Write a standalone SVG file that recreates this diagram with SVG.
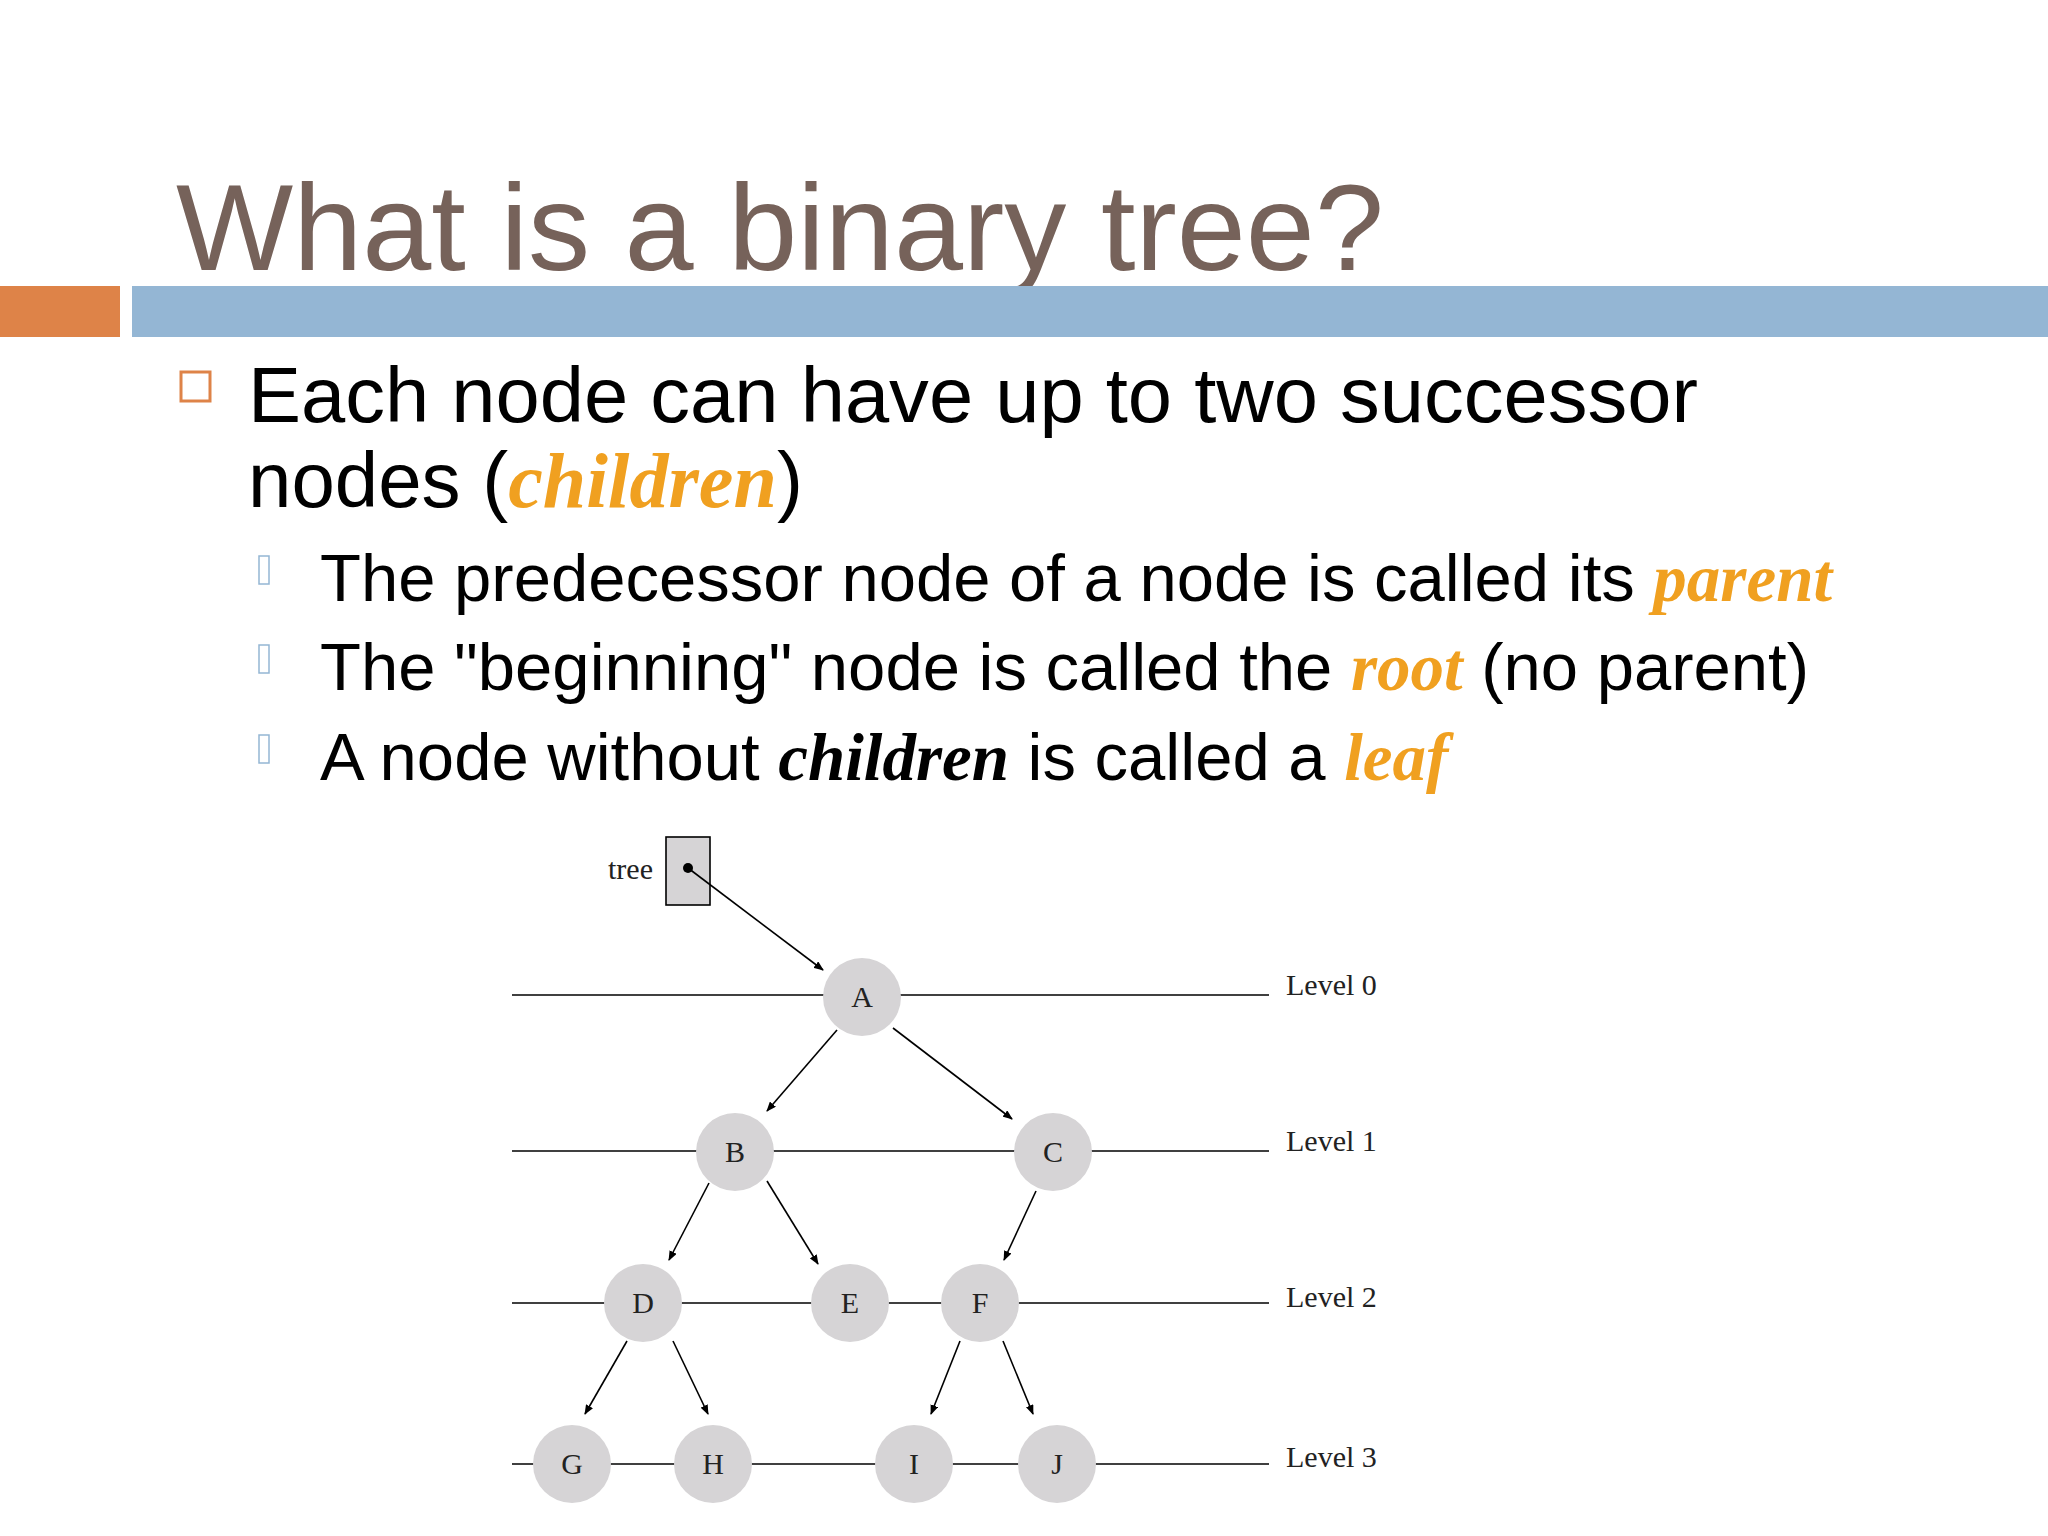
<svg xmlns="http://www.w3.org/2000/svg" width="2048" height="1536" viewBox="0 0 2048 1536">
<style>
.t{font-family:"Liberation Sans",Arial,sans-serif;fill:#000}
.o{font-family:"Liberation Serif",serif;font-style:italic;font-weight:bold;fill:#f0a020}
.s{font-family:"Liberation Serif",serif;fill:#222;font-size:30px}
.n{fill:#d6d4d6}
.lv{stroke:#000;stroke-width:1.6;fill:none}
.ar{stroke:#000;stroke-width:1.6;marker-end:url(#ah)}
</style>
<defs><marker id="ah" markerWidth="10" markerHeight="8" refX="9" refY="4" orient="auto" markerUnits="userSpaceOnUse"><path d="M0,0 L10,4 L0,8 z" fill="#000"/></marker></defs>
<rect width="2048" height="1536" fill="#fff"/>
<text x="176" y="270" font-family="Liberation Sans,Arial,sans-serif" font-size="122" fill="#76625a" textLength="1208" lengthAdjust="spacingAndGlyphs">What is a binary tree?</text>
<rect x="0" y="286" width="120" height="51" fill="#de8348"/>
<rect x="132" y="286" width="1916" height="51" fill="#94b6d4"/>
<rect x="181" y="372" width="29" height="29" fill="none" stroke="#de8348" stroke-width="3"/>
<text class="t" x="248" y="422" font-size="78" textLength="1450" lengthAdjust="spacingAndGlyphs">Each node can have up to two successor</text>
<text class="t" x="248" y="507" font-size="78">nodes (<tspan class="o">children</tspan>)</text>
<g font-size="67">
<rect x="259" y="556" width="10" height="28" fill="none" stroke="#94b6d4" stroke-width="1.5"/>
<text class="t" x="320" y="601">The predecessor node of a node is called its <tspan class="o">parent</tspan></text>
<rect x="259" y="645" width="10" height="28" fill="none" stroke="#94b6d4" stroke-width="1.5"/>
<text class="t" x="320" y="690">The "beginning" node is called the <tspan class="o">root</tspan> (no parent)</text>
<rect x="259" y="735" width="10" height="28" fill="none" stroke="#94b6d4" stroke-width="1.5"/>
<text class="t" x="320" y="780">A node without <tspan class="o" style="fill:#000">children</tspan> is called a <tspan class="o">leaf</tspan></text>
</g>
<g id="levels">
<line class="lv" x1="512" y1="995" x2="1269" y2="995"/>
<line class="lv" x1="512" y1="1151" x2="1269" y2="1151"/>
<line class="lv" x1="512" y1="1303" x2="1269" y2="1303"/>
<line class="lv" x1="512" y1="1464" x2="1269" y2="1464"/>
<text class="s" x="1286" y="995">Level 0</text>
<text class="s" x="1286" y="1151">Level 1</text>
<text class="s" x="1286" y="1307">Level 2</text>
<text class="s" x="1286" y="1467">Level 3</text>
</g>
<g id="tree"><rect x="666" y="837" width="44" height="68" fill="#d6d4d6" stroke="#000" stroke-width="1.6"/><circle cx="688" cy="868" r="5"/><text class="s" x="653" y="879" text-anchor="end">tree</text></g>
<g id="connectors">
<line class="ar" x1="688" y1="868" x2="823" y2="970"/>
<line class="ar" x1="837" y1="1030" x2="767" y2="1111"/>
<line class="ar" x1="893" y1="1028" x2="1012" y2="1119"/>
<line class="ar" x1="709" y1="1183" x2="669" y2="1260"/>
<line class="ar" x1="767" y1="1181" x2="818" y2="1264"/>
<line class="ar" x1="1036" y1="1191" x2="1004" y2="1260"/>
<line class="ar" x1="627" y1="1341" x2="585" y2="1414"/>
<line class="ar" x1="673" y1="1341" x2="708" y2="1414"/>
<line class="ar" x1="960" y1="1341" x2="931" y2="1414"/>
<line class="ar" x1="1003" y1="1341" x2="1033" y2="1414"/>
</g>
<g id="A"><circle class="n" cx="862" cy="997" r="39"/><text class="s" x="862" y="1007" text-anchor="middle">A</text></g>
<g id="B"><circle class="n" cx="735" cy="1152" r="39"/><text class="s" x="735" y="1162" text-anchor="middle">B</text></g>
<g id="C"><circle class="n" cx="1053" cy="1152" r="39"/><text class="s" x="1053" y="1162" text-anchor="middle">C</text></g>
<g id="D"><circle class="n" cx="643" cy="1303" r="39"/><text class="s" x="643" y="1313" text-anchor="middle">D</text></g>
<g id="E"><circle class="n" cx="850" cy="1303" r="39"/><text class="s" x="850" y="1313" text-anchor="middle">E</text></g>
<g id="F"><circle class="n" cx="980" cy="1303" r="39"/><text class="s" x="980" y="1313" text-anchor="middle">F</text></g>
<g id="G"><circle class="n" cx="572" cy="1464" r="39"/><text class="s" x="572" y="1474" text-anchor="middle">G</text></g>
<g id="H"><circle class="n" cx="713" cy="1464" r="39"/><text class="s" x="713" y="1474" text-anchor="middle">H</text></g>
<g id="I"><circle class="n" cx="914" cy="1464" r="39"/><text class="s" x="914" y="1474" text-anchor="middle">I</text></g>
<g id="J"><circle class="n" cx="1057" cy="1464" r="39"/><text class="s" x="1057" y="1474" text-anchor="middle">J</text></g>
</svg>
